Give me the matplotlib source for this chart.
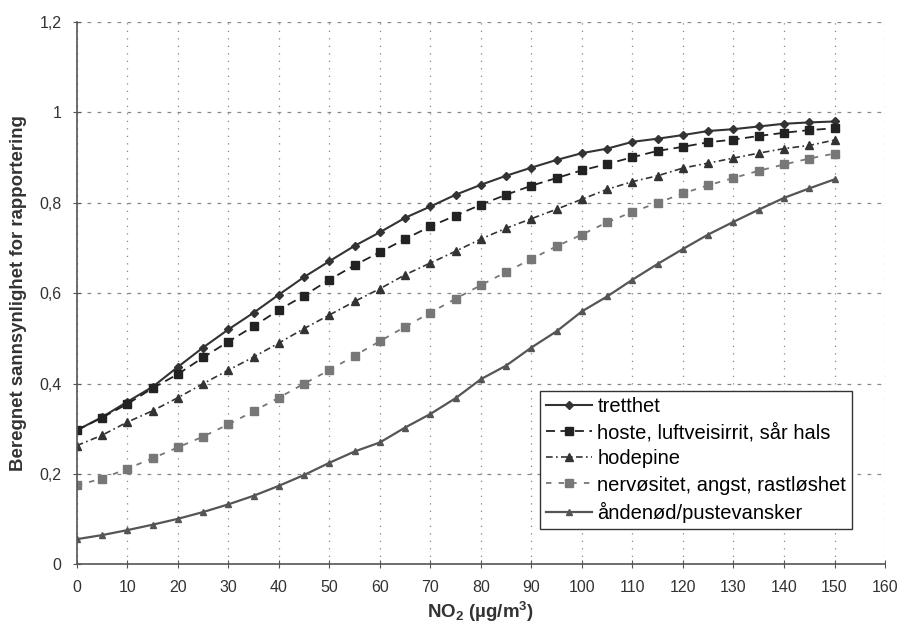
import matplotlib
matplotlib.use("Agg")
import matplotlib.pyplot as plt

plt.rcParams['font.family'] = ['Liberation Sans', 'DejaVu Sans']
plt.rcParams['mathtext.default'] = 'regular'

# NO2 concentration, every 5 ug/m3
no2 = list(range(0, 155, 5))

tretthet = [0.297, 0.326, 0.36, 0.393, 0.437, 0.48, 0.52, 0.557, 0.597, 0.636,
            0.671, 0.705, 0.735, 0.767, 0.792, 0.818, 0.84, 0.86, 0.878, 0.895,
            0.91, 0.92, 0.935, 0.942, 0.95, 0.959, 0.963, 0.969, 0.975, 0.978, 0.98]
hoste = [0.297, 0.325, 0.355, 0.39, 0.421, 0.458, 0.493, 0.527, 0.563, 0.595,
         0.63, 0.662, 0.691, 0.72, 0.748, 0.772, 0.796, 0.818, 0.838, 0.855,
         0.872, 0.886, 0.901, 0.915, 0.924, 0.934, 0.94, 0.948, 0.955, 0.961, 0.965]
hodepine = [0.263, 0.286, 0.315, 0.34, 0.369, 0.40, 0.43, 0.459, 0.49, 0.522,
            0.552, 0.582, 0.61, 0.641, 0.667, 0.693, 0.72, 0.744, 0.765, 0.786,
            0.808, 0.83, 0.847, 0.86, 0.877, 0.888, 0.899, 0.91, 0.92, 0.927, 0.939]
nervositet = [0.175, 0.19, 0.212, 0.235, 0.259, 0.283, 0.31, 0.339, 0.369, 0.40,
              0.43, 0.462, 0.494, 0.526, 0.557, 0.588, 0.618, 0.647, 0.676, 0.704,
              0.73, 0.757, 0.78, 0.80, 0.821, 0.839, 0.855, 0.871, 0.885, 0.898, 0.909]
andenod = [0.056, 0.065, 0.076, 0.088, 0.101, 0.116, 0.133, 0.152, 0.174, 0.198,
           0.225, 0.25, 0.27, 0.303, 0.333, 0.368, 0.41, 0.44, 0.48, 0.516,
           0.56, 0.593, 0.63, 0.665, 0.698, 0.73, 0.758, 0.785, 0.811, 0.832, 0.852]

labels = ['tretthet', 'hoste, luftveisirrit, sår hals', 'hodepine',
          'nervøsitet, angst, rastløshet', 'åndenød/pustevansker']

x_ticks = list(range(0, 170, 10))
y_ticks = [0, 0.2, 0.4, 0.6, 0.8, 1.0, 1.2]
y_ticklabels = ['0', '0,2', '0,4', '0,6', '0,8', '1', '1,2']

fig = plt.figure(figsize=(9.04, 6.30), dpi=100)
ax = fig.add_axes([0.085, 0.104, 0.894, 0.861])

ax.plot(no2, tretthet, color='#333333', lw=1.5, marker='D', ms=4, label=labels[0])
ax.plot(no2, hoste, color='#222222', lw=1.3, dashes=(5, 3), marker='s', ms=5.5, label=labels[1])
ax.plot(no2, hodepine, color='#333333', lw=1.2, dashes=(4, 2, 1, 2), marker='^', ms=5.5, label=labels[2])
ax.plot(no2, nervositet, color='#777777', lw=1.3, dashes=(3, 4), marker='s', ms=5.5, label=labels[3])
ax.plot(no2, andenod, color='#555555', lw=1.6, marker='^', ms=4.5, label=labels[4])

ax.set_xlim(0, 160)
ax.set_ylim(0, 1.2)
ax.set_xticks(x_ticks)
ax.set_yticks(y_ticks)
ax.set_yticklabels(y_ticklabels)

ax.grid(axis='x', color='#888888', linestyle=(0, (1, 5)), lw=0.9)
ax.grid(axis='y', color='#888888', linestyle=(0, (3, 5)), lw=0.9)
for s in ['top', 'right']:
    ax.spines[s].set_visible(False)
for s in ['left', 'bottom']:
    ax.spines[s].set_color('#555555')
    ax.spines[s].set_linewidth(1.2)
ax.tick_params(direction='inout', length=6, color='#555555', labelsize=11.5, labelcolor='#333333', pad=8)

ax.set_xlabel(r'NO$_2$ (µg/m$^3$)', fontsize=13.5, fontweight='bold', color='#333333', labelpad=4)
ax.set_ylabel('Beregnet sannsynlighet for rapportering', fontsize=13.4, fontweight='bold',
              color='#333333', labelpad=9)

leg = ax.legend(loc='lower left', bbox_to_anchor=(0.573, 0.066), fontsize=14.5, frameon=True,
                fancybox=False, handlelength=2.3, handletextpad=0.25, borderpad=0.3,
                labelspacing=0.35, borderaxespad=0.0, framealpha=1.0)
leg.get_frame().set_edgecolor('#333333')
leg.get_frame().set_linewidth(1.0)

fig.savefig('out.png', dpi=100, facecolor='white')
